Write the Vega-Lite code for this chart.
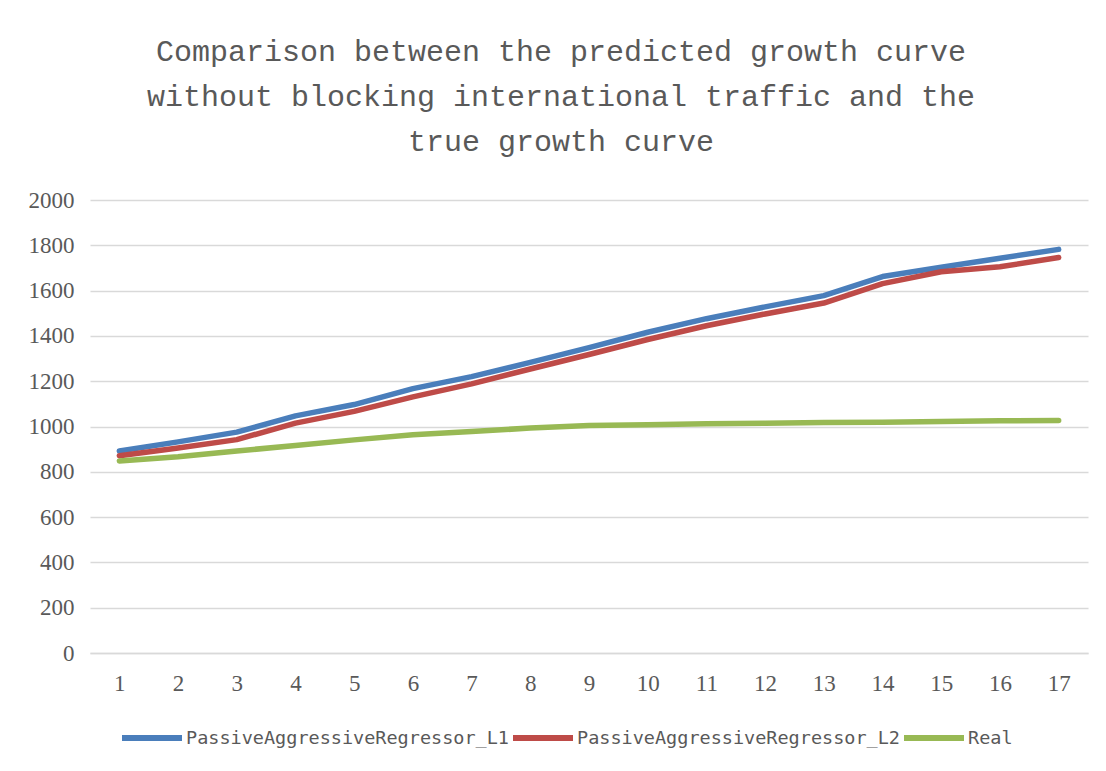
{
  "$schema": "https://vega.github.io/schema/vega-lite/v6.json",
  "width": 998,
  "height": 453,
  "autosize": {"type": "none"},
  "padding": {"left": 90, "top": 200, "right": 18, "bottom": 118},
  "background": "white",
  "title": {
    "text": ["Comparison between the predicted growth curve", "without blocking international traffic and the", "true growth curve"],
    "font": "Liberation Mono",
    "fontSize": 30,
    "fontWeight": "normal",
    "lineHeight": 45,
    "color": "#595959",
    "anchor": "middle",
    "dx": -28,
    "offset": 32
  },
  "data": {
    "values": [
      {"x": 1, "series": "PassiveAggressiveRegressor_L1", "value": 892},
      {"x": 2, "series": "PassiveAggressiveRegressor_L1", "value": 932},
      {"x": 3, "series": "PassiveAggressiveRegressor_L1", "value": 975},
      {"x": 4, "series": "PassiveAggressiveRegressor_L1", "value": 1047},
      {"x": 5, "series": "PassiveAggressiveRegressor_L1", "value": 1097},
      {"x": 6, "series": "PassiveAggressiveRegressor_L1", "value": 1167},
      {"x": 7, "series": "PassiveAggressiveRegressor_L1", "value": 1220},
      {"x": 8, "series": "PassiveAggressiveRegressor_L1", "value": 1283},
      {"x": 9, "series": "PassiveAggressiveRegressor_L1", "value": 1348},
      {"x": 10, "series": "PassiveAggressiveRegressor_L1", "value": 1416},
      {"x": 11, "series": "PassiveAggressiveRegressor_L1", "value": 1476},
      {"x": 12, "series": "PassiveAggressiveRegressor_L1", "value": 1528},
      {"x": 13, "series": "PassiveAggressiveRegressor_L1", "value": 1578},
      {"x": 14, "series": "PassiveAggressiveRegressor_L1", "value": 1662},
      {"x": 15, "series": "PassiveAggressiveRegressor_L1", "value": 1703},
      {"x": 16, "series": "PassiveAggressiveRegressor_L1", "value": 1743},
      {"x": 17, "series": "PassiveAggressiveRegressor_L1", "value": 1782},
      {"x": 1, "series": "PassiveAggressiveRegressor_L2", "value": 871},
      {"x": 2, "series": "PassiveAggressiveRegressor_L2", "value": 905},
      {"x": 3, "series": "PassiveAggressiveRegressor_L2", "value": 942},
      {"x": 4, "series": "PassiveAggressiveRegressor_L2", "value": 1015},
      {"x": 5, "series": "PassiveAggressiveRegressor_L2", "value": 1067},
      {"x": 6, "series": "PassiveAggressiveRegressor_L2", "value": 1131},
      {"x": 7, "series": "PassiveAggressiveRegressor_L2", "value": 1188},
      {"x": 8, "series": "PassiveAggressiveRegressor_L2", "value": 1254},
      {"x": 9, "series": "PassiveAggressiveRegressor_L2", "value": 1318},
      {"x": 10, "series": "PassiveAggressiveRegressor_L2", "value": 1384},
      {"x": 11, "series": "PassiveAggressiveRegressor_L2", "value": 1445},
      {"x": 12, "series": "PassiveAggressiveRegressor_L2", "value": 1497},
      {"x": 13, "series": "PassiveAggressiveRegressor_L2", "value": 1545},
      {"x": 14, "series": "PassiveAggressiveRegressor_L2", "value": 1631},
      {"x": 15, "series": "PassiveAggressiveRegressor_L2", "value": 1683},
      {"x": 16, "series": "PassiveAggressiveRegressor_L2", "value": 1705},
      {"x": 17, "series": "PassiveAggressiveRegressor_L2", "value": 1746},
      {"x": 1, "series": "Real", "value": 848},
      {"x": 2, "series": "Real", "value": 866},
      {"x": 3, "series": "Real", "value": 892},
      {"x": 4, "series": "Real", "value": 916},
      {"x": 5, "series": "Real", "value": 941},
      {"x": 6, "series": "Real", "value": 964},
      {"x": 7, "series": "Real", "value": 978},
      {"x": 8, "series": "Real", "value": 993},
      {"x": 9, "series": "Real", "value": 1004},
      {"x": 10, "series": "Real", "value": 1008},
      {"x": 11, "series": "Real", "value": 1012},
      {"x": 12, "series": "Real", "value": 1014},
      {"x": 13, "series": "Real", "value": 1018},
      {"x": 14, "series": "Real", "value": 1019},
      {"x": 15, "series": "Real", "value": 1022},
      {"x": 16, "series": "Real", "value": 1025},
      {"x": 17, "series": "Real", "value": 1026}
    ]
  },
  "mark": {"type": "line", "strokeWidth": 5.5, "strokeCap": "round", "strokeJoin": "round"},
  "encoding": {
    "x": {
      "field": "x",
      "type": "ordinal",
      "scale": {"padding": 0.5},
      "axis": {
        "title": null,
        "labelAngle": 0,
        "ticks": false,
        "grid": false,
        "domain": true,
        "domainColor": "#d9d9d9",
        "domainWidth": 1.5,
        "labelFont": "Liberation Serif",
        "labelFontSize": 23,
        "labelColor": "#595959",
        "labelPadding": 19
      }
    },
    "y": {
      "field": "value",
      "type": "quantitative",
      "scale": {"domain": [0, 2000], "nice": false},
      "axis": {
        "title": null,
        "format": "d",
        "values": [0, 200, 400, 600, 800, 1000, 1200, 1400, 1600, 1800, 2000],
        "ticks": false,
        "domain": false,
        "gridColor": "#d9d9d9",
        "gridWidth": 1.5,
        "labelFont": "Liberation Serif",
        "labelFontSize": 23,
        "labelColor": "#595959",
        "labelPadding": 16
      }
    },
    "color": {
      "field": "series",
      "type": "nominal",
      "scale": {
        "domain": ["PassiveAggressiveRegressor_L1", "PassiveAggressiveRegressor_L2", "Real"],
        "range": ["#4a7ebb", "#be4b48", "#98b954"]
      },
      "legend": {
        "title": null,
        "orient": "none",
        "direction": "horizontal",
        "legendX": 29,
        "legendY": 505,
        "symbolType": "stroke",
        "symbolSize": 3600,
        "symbolStrokeWidth": 6,
        "labelFont": "DejaVu Sans Mono",
        "labelFontSize": 18.5,
        "labelColor": "#595959",
        "labelLimit": 500,
        "labelOffset": 1,
        "columnPadding": -12
      }
    }
  },
  "config": {"view": {"stroke": null}}
}
